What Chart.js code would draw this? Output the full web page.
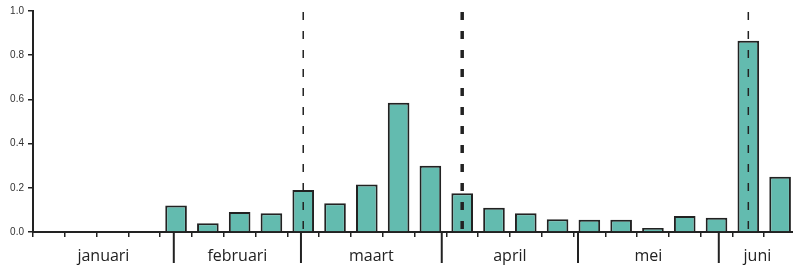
<!DOCTYPE html>
<html>
<head>
<meta charset="utf-8">
<script src="https://cdn.jsdelivr.net/npm/chart.js@4.4.1/dist/chart.umd.min.js"></script>
<style>
  html, body { margin: 0; padding: 0; background: #fff; overflow: hidden; }
  #wrap { width: 796px; height: 265px; }
</style>
</head>
<body>
<div id="wrap"><canvas id="c" width="796" height="265"></canvas></div>
<script>
// ---- data ----
const weeks = ['1','2','3','4','5','6','7','8','9','10','11','12','13','14','15','16','17','18','19','20','21','22','23','24'];
const values = [null, null, null, null, 0.12, 0.04, 0.09, 0.085, 0.19, 0.13, 0.215, 0.585, 0.30, 0.175, 0.11, 0.085, 0.058, 0.055, 0.055, 0.018, 0.072, 0.065, 0.865, 0.25];
const months = ['januari', 'februari', 'maart', 'april', 'mei', 'juni'];
const monthStartDays = [0, 31, 59, 90, 120, 151];
const markerWeeks = [8, 13, 22];
const yTicks = [0, 0.2, 0.4, 0.6, 0.8, 1.0];

const INK = '#222222';

const overlay = {
  id: 'overlay',
  afterDatasetsDraw(chart, args, opts) {
    const ctx = chart.ctx;
    const xs = chart.scales.x;
    const area = chart.chartArea;
    const dayPx = d => xs.getPixelForValue(d / 7 - 0.5);
    ctx.save();
    // dashed markers
    markerWeeks.forEach((w, i) => {
      const x = xs.getPixelForValue(w);
      ctx.beginPath();
      ctx.setLineDash([8, 11]);
      ctx.lineWidth = opts.markerWidths[i];
      ctx.strokeStyle = INK;
      ctx.moveTo(x, area.top + 1);
      ctx.lineTo(x, area.bottom + 5);
      ctx.stroke();
    });
    ctx.setLineDash([]);
    // month separators
    ctx.lineWidth = 2;
    ctx.strokeStyle = INK;
    for (let m = 1; m < monthStartDays.length; m++) {
      const x = dayPx(monthStartDays[m]);
      ctx.beginPath();
      ctx.moveTo(x, area.bottom);
      ctx.lineTo(x, area.bottom + 31);
      ctx.stroke();
    }
    // month labels
    ctx.fillStyle = '#222';
    ctx.font = '16px "Open Sans"';
    ctx.textAlign = 'center';
    ctx.textBaseline = 'alphabetic';
    const endDay = weeks.length * 7;
    months.forEach((name, m) => {
      const s = monthStartDays[m];
      const e = Math.min(m + 1 < monthStartDays.length ? monthStartDays[m + 1] : endDay, endDay);
      const x = (dayPx(s) + dayPx(e)) / 2;
      ctx.fillText(name, x, area.bottom + 29);
    });
    ctx.restore();
  }
};

new Chart(document.getElementById('c'), {
  type: 'bar',
  data: {
    labels: weeks,
    datasets: [{
      data: values,
      backgroundColor: '#63BBAF',
      borderColor: INK,
      borderWidth: 2,
      categoryPercentage: 1,
      barPercentage: 0.68
    }]
  },
  options: {
    responsive: false,
    animation: false,
    events: [],
    layout: { padding: { top: 11, left: 0, right: 0, bottom: 0 } },
    plugins: {
      legend: { display: false },
      tooltip: { enabled: false },
      overlay: { markerWidths: [1.5, 3.5, 1.5] }
    },
    scales: {
      x: {
        type: 'category',
        offset: true,
        ticks: { display: false },
        grid: { offset: true, drawOnChartArea: false, drawTicks: true, tickLength: 5, color: INK, lineWidth: 1.5 },
        border: { display: true, color: INK, width: 2 },
        afterFit(s) { s.height = 33; }
      },
      y: {
        min: 0,
        max: 1,
        afterBuildTicks(s) { s.ticks = yTicks.map(v => ({ value: v })); },
        ticks: {
          callback: v => Number(v).toFixed(1),
          font: { family: '"Liberation Sans", Arial, sans-serif', size: 10 },
          color: '#333',
          padding: 4
        },
        grid: { drawOnChartArea: false, drawTicks: true, tickLength: 5, color: INK, lineWidth: 1.5 },
        border: { display: true, color: INK, width: 2 },
        afterFit(s) { s.width = 33; }
      }
    }
  },
  plugins: [overlay]
});
</script>
</body>
</html>
